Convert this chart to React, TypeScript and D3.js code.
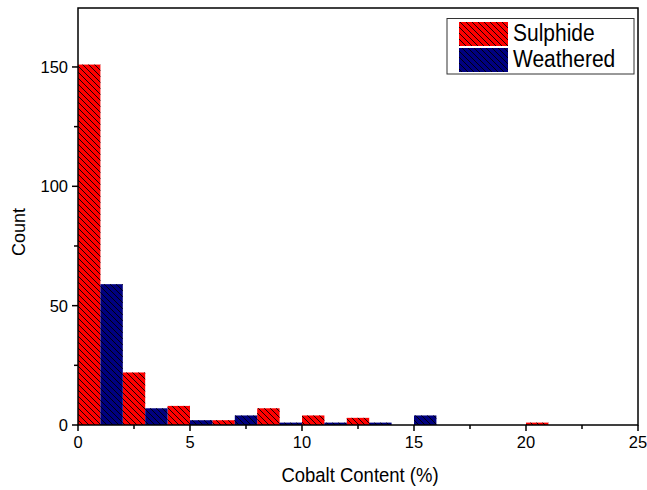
import React from "react";
import * as d3 from "d3";

const binStarts = [0, 2, 4, 6, 8, 10, 12, 14, 16, 18, 20];
const sulphideCounts = [151, 22, 8, 2, 7, 4, 3, 0, 0, 0, 1];
const weatheredCounts = [59, 7, 2, 4, 1, 1, 1, 4, 0, 0, 0];
const xTicks = [0, 5, 10, 15, 20, 25];
const xMinorTicks = [2.5, 7.5, 12.5, 17.5, 22.5];
const yTicks = [0, 50, 100, 150];
const yMinorTicks = [25, 75, 125];
const seriesNames = ["Sulphide", "Weathered"];
const seriesColors = ["#FF0000", "#000080"];

const W = 647;
const H = 490;
const left = 78;
const right = 638;
const top = 8;
const bottom = 425;

export default function App() {
  const x = d3.scaleLinear().domain([0, 25]).range([left, right]);
  const y = d3.scaleLinear().domain([0, 174.7]).range([bottom, top]);
  const font = "'Liberation Sans', Arial, sans-serif";
  const series = [sulphideCounts, weatheredCounts];

  return (
    <svg width={W} height={H} style={{ position: "absolute", left: 0, top: 0 }}>
      <defs>
        <pattern id="hatch" patternUnits="userSpaceOnUse" width={6} height={6}>
          <path d="M0,0 L6,6 M-1,5 L1,7 M5,-1 L7,1" stroke="#000" strokeWidth={0.9} />
        </pattern>
      </defs>
      <rect width={W} height={H} fill="#fff" />
      {series.map((vals, si) =>
        vals.map((v, i) => {
          if (v <= 0) return null;
          const x0 = x(binStarts[i] + si);
          const x1 = x(binStarts[i] + si + 1);
          return (
            <g key={`${si}-${i}`}>
              <rect x={x0} y={y(v)} width={x1 - x0} height={y(0) - y(v)} fill={seriesColors[si]} />
              <rect x={x0} y={y(v)} width={x1 - x0} height={y(0) - y(v)} fill="url(#hatch)" />
            </g>
          );
        })
      )}
      <rect x={left} y={top} width={right - left} height={bottom - top} fill="none" stroke="#000" strokeWidth={1.5} />
      {xTicks.map((t) => (
        <g key={`xt${t}`}>
          <line x1={x(t)} x2={x(t)} y1={bottom} y2={bottom + 6} stroke="#000" strokeWidth={1.5} />
          <text x={x(t)} y={448} textAnchor="middle" fontFamily={font} fontSize={16.5}>
            {t}
          </text>
        </g>
      ))}
      {xMinorTicks.map((t) => (
        <line key={`xm${t}`} x1={x(t)} x2={x(t)} y1={bottom} y2={bottom + 4} stroke="#000" strokeWidth={1.5} />
      ))}
      {yTicks.map((t) => (
        <g key={`yt${t}`}>
          <line x1={left - 6} x2={left} y1={y(t)} y2={y(t)} stroke="#000" strokeWidth={1.5} />
          <text x={left - 10} y={y(t)} dy="0.36em" textAnchor="end" fontFamily={font} fontSize={16.5}>
            {t}
          </text>
        </g>
      ))}
      {yMinorTicks.map((t) => (
        <line key={`ym${t}`} x1={left - 4} x2={left} y1={y(t)} y2={y(t)} stroke="#000" strokeWidth={1.5} />
      ))}
      <text
        transform={`translate(${(left + right) / 2 + 2},482) scale(1,1.12)`}
        textAnchor="middle"
        fontFamily={font}
        fontSize={18.5}
      >
        Cobalt Content (%)
      </text>
      <text
        transform={`translate(25,232) rotate(-90)`}
        textAnchor="middle"
        fontFamily={font}
        fontSize={18}
      >
        Count
      </text>
      <rect x={447} y={18.5} width={187} height={55.5} fill="#fff" stroke="#333" strokeWidth={1} />
      {seriesNames.map((name, i) => (
        <g key={name}>
          <rect x={459} y={22 + i * 26} width={49} height={24} fill={seriesColors[i]} />
          <rect x={459} y={22 + i * 26} width={49} height={24} fill="url(#hatch)" />
          <text
            transform={`translate(513,${41 + i * 26}) scale(1,1.12)`}
            fontFamily={font}
            fontSize={21}
          >
            {name}
          </text>
        </g>
      ))}
    </svg>
  );
}
